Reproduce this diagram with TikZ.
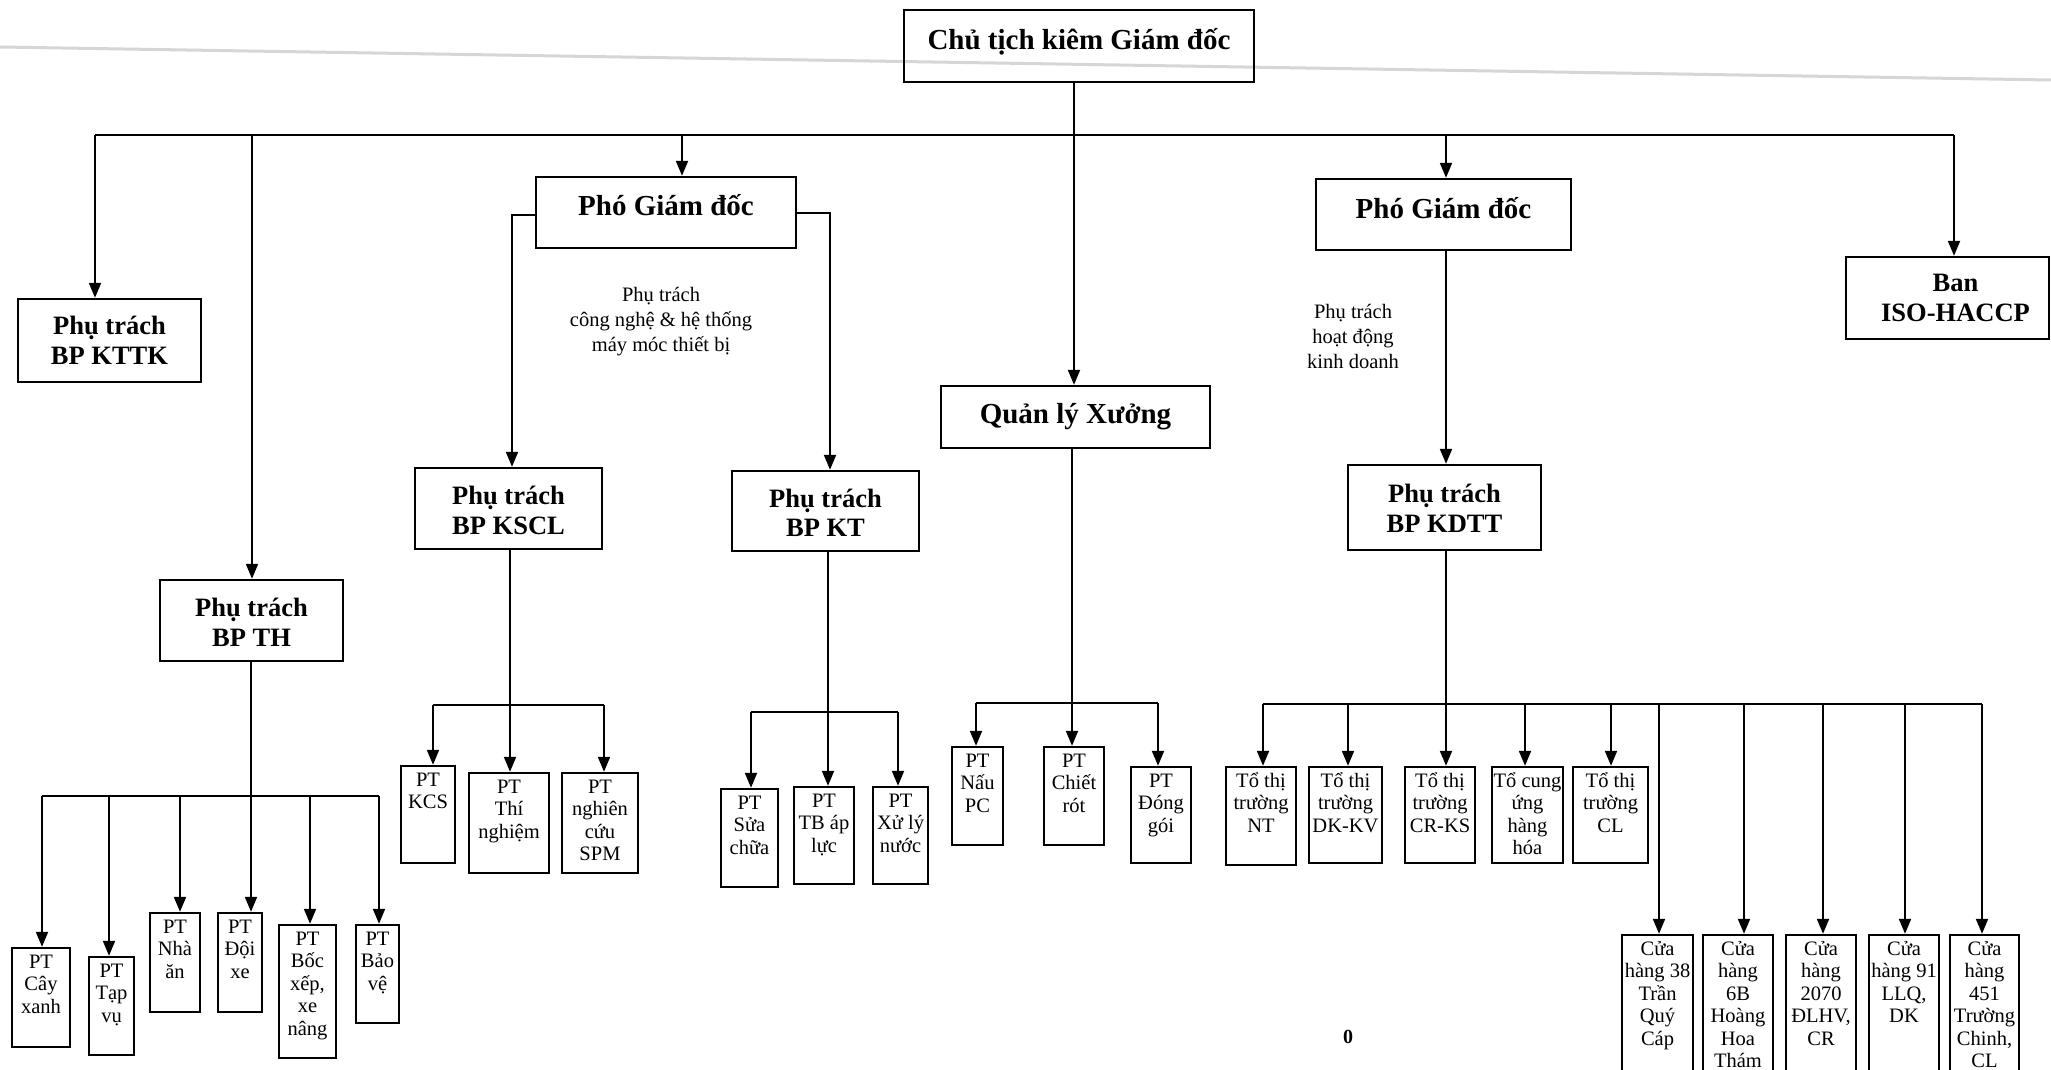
\documentclass[tikz,border=0pt]{standalone}
\usepackage{fontspec}
\setmainfont{Liberation Serif}
\usetikzlibrary{arrows.meta,fit}
\newcommand\tlines[1]{\begin{tabular}[t]{@{}c@{}}#1\end{tabular}}
\tikzset{
 boxline/.style={draw=black, line width=2.4pt, inner sep=0pt},
 conn/.style={draw=black, line width=2pt},
 arr/.style={conn, -{Triangle[length=15pt,width=12pt]}},
 smtext/.style={inner sep=0pt, font=\fontsize{20.5}{22.5}\selectfont},
 bgtext/.style={inner sep=0pt, align=center, font=\bfseries\fontsize{26.5}{29.5}\selectfont},
 toptext/.style={inner sep=0pt, align=center, font=\bfseries\fontsize{29}{32}\selectfont},
 lbl/.style={inner sep=0pt, align=center, font=\fontsize{20.5}{25}\selectfont},
 scan/.style={draw=black!16, line width=3pt},
}
% small box: name x1 y1 x2 y2 text
\newcommand\smbox[6]{%
  \node[boxline, fit={(#2,#3)(#4,#5)}] (#1) {};
  \node[smtext, anchor=base] (#1-t) at ([yshift=-21.5pt]#1.north) {\tlines{#6}};
}
% big box: name x1 y1 x2 y2 style yshift text
\newcommand\bgbox[8]{%
  \node[boxline, fit={(#2,#3)(#4,#5)}] (#1) {};
  \node[#6] (#1-t) at ([yshift=#7]#1.center) {#8};
}
\newcommand\drop[4]{\coordinate (#1) at (#2,#3); \draw[arr] (#1) -- (#1 |- #4.north);}
\begin{document}
\begin{tikzpicture}[x=1pt,y=-1pt]
\useasboundingbox (0,0) rectangle (2051,1070);
\clip (0,0) rectangle (2051,1070);
\fill[white] (0,0) rectangle (2051,1070);
\draw[scan] (0,47) -- (2051,80);

% ---- main boxes
\bgbox{ct}{904}{10}{1254}{82}{toptext}{4pt}{Chủ tịch kiêm Giám đốc}
\bgbox{kttk}{18}{299}{201}{382}{bgtext}{0pt}{Phụ trách\\BP KTTK}
\bgbox{th}{160}{580}{343}{661}{bgtext}{-2pt}{Phụ trách\\BP TH}
\bgbox{pgd1}{536}{177}{796}{248}{toptext}{7pt}{Phó Giám đốc}
\bgbox{kscl}{415}{468}{602}{549}{bgtext}{-2pt}{Phụ trách\\BP KSCL}
\bgbox{kt}{732}{471}{919}{551}{bgtext}{-2pt}{Phụ trách\\BP KT}
\bgbox{qlx}{941}{386}{1210}{448}{toptext}{0pt}{Quản lý Xưởng}
\bgbox{pgd2}{1316}{179}{1571}{250}{toptext}{6pt}{Phó Giám đốc}
\bgbox{kdtt}{1348}{465}{1541}{550}{bgtext}{-1pt}{Phụ trách\\BP KDTT}
\node[boxline, fit={(1846,257)(2049,339)}] (iso) {};
\node[bgtext] (iso-t) at ([xshift=8pt]iso.center) {Ban\\ISO-HACCP};

% ---- labels
\node[lbl] (lab1) at (661,322) {Phụ trách\\công nghệ \& hệ thống\\máy móc thiết bị};
\node[lbl] (lab2) at (1353,336) {Phụ trách\\hoạt động\\kinh doanh};
\node[inner sep=0pt, font=\bfseries\fontsize{20}{22}\selectfont] (pg) at (1348,1037) {0};

% ---- small boxes: TH
\smbox{cay}{12}{948}{70}{1047}{PT\\Cây\\xanh}
\smbox{tap}{89}{957}{134}{1055}{PT\\Tạp\\vụ}
\smbox{nha}{150}{913}{200}{1012}{PT\\Nhà\\ăn}
\smbox{doi}{218}{913}{262}{1012}{PT\\Đội\\xe}
\smbox{boc}{279}{925}{336}{1058}{PT\\Bốc\\xếp,\\xe\\nâng}
\smbox{bao}{356}{925}{399}{1023}{PT\\Bảo\\vệ}
% KSCL
\smbox{kcs}{401}{766}{455}{863}{PT\\KCS}
\smbox{tn}{469}{773}{549}{873}{PT\\Thí\\nghiệm}
\smbox{spm}{562}{773}{638}{873}{PT\\nghiên\\cứu\\SPM}
% KT
\smbox{sc}{721}{789}{778}{887}{PT\\Sửa\\chữa}
\smbox{tb}{794}{787}{854}{884}{PT\\TB áp\\lực}
\smbox{xl}{873}{787}{928}{884}{PT\\Xử lý\\nước}
% QLX
\smbox{nau}{952}{747}{1003}{845}{PT\\Nấu\\PC}
\smbox{chiet}{1044}{747}{1104}{845}{PT\\Chiết\\rót}
\smbox{dong}{1131}{767}{1191}{863}{PT\\Đóng\\gói}
% KDTT
\smbox{nt}{1226}{767}{1296}{865}{Tổ thị\\trường\\NT}
\smbox{dk}{1309}{767}{1382}{863}{Tổ thị\\trường\\DK-KV}
\smbox{crks}{1405}{767}{1475}{863}{Tổ thị\\trường\\CR-KS}
\smbox{cu}{1492}{767}{1563}{863}{Tổ cung\\ứng\\hàng\\hóa}
\smbox{cl}{1573}{767}{1648}{863}{Tổ thị\\trường\\CL}
\smbox{ch1}{1622}{935}{1693}{1080}{Cửa\\hàng 38\\Trần\\Quý\\Cáp}
\smbox{ch2}{1703}{935}{1773}{1080}{Cửa\\hàng\\6B\\Hoàng\\Hoa\\Thám}
\smbox{ch3}{1786}{935}{1856}{1080}{Cửa\\hàng\\2070\\ĐLHV,\\CR}
\smbox{ch4}{1869}{935}{1939}{1080}{Cửa\\hàng 91\\LLQ,\\DK}
\smbox{ch5}{1950}{935}{2019}{1080}{Cửa\\hàng\\451\\Trường\\Chinh,\\CL}

% ---- top bus
\coordinate (busL) at (95,135);
\coordinate (busR) at (1954,135);
\draw[conn] (busL) -- (busR);
\draw[arr] (busL) -- (busL |- kttk.north);
\drop{bTH}{252}{135}{th}
\drop{bP1}{682}{135}{pgd1}
\drop{bP2}{1446}{135}{pgd2}
\draw[arr] (busR) -- (busR |- iso.north);
\drop{ctD}{1074}{82}{qlx}

% ---- deputy 1
\draw[arr] ([yshift=-2.5pt]pgd1.west) -| ([xshift=3.5pt]kscl.north);
\draw[arr] (pgd1.east) -| ([xshift=4.5pt]kt.north);
% ---- deputy 2
\drop{p2D}{1446}{250}{kdtt}

% ---- TH group
\coordinate (thL) at (42,796);
\coordinate (thR) at (379,796);
\draw[conn] (thL) -- (thR);
\drop{thD}{251}{661}{doi}
\draw[arr] (thL) -- (thL |- cay.north);
\drop{th2}{109}{796}{tap}
\drop{th3}{180}{796}{nha}
\drop{th5}{310}{796}{boc}
\draw[arr] (thR) -- (thR |- bao.north);

% ---- KSCL group
\coordinate (ksL) at (433,705);
\coordinate (ksR) at (604,705);
\draw[conn] (ksL) -- (ksR);
\drop{ksD}{510}{549}{tn}
\draw[arr] (ksL) -- (ksL |- kcs.north);
\draw[arr] (ksR) -- (ksR |- spm.north);

% ---- KT group
\coordinate (ktL) at (751,712);
\coordinate (ktR) at (898,712);
\draw[conn] (ktL) -- (ktR);
\drop{ktD}{828}{551}{tb}
\draw[arr] (ktL) -- (ktL |- sc.north);
\draw[arr] (ktR) -- (ktR |- xl.north);

% ---- QLX group
\coordinate (qL) at (976,703);
\coordinate (qR) at (1158,703);
\draw[conn] (qL) -- (qR);
\drop{qD}{1072}{448}{chiet}
\draw[arr] (qL) -- (qL |- nau.north);
\draw[arr] (qR) -- (qR |- dong.north);

% ---- KDTT group
\coordinate (kL) at (1263,704);
\coordinate (kR) at (1982,704);
\draw[conn] (kL) -- (kR);
\drop{kD}{1446}{550}{crks}
\draw[arr] (kL) -- (kL |- nt.north);
\drop{k2}{1348}{704}{dk}
\drop{k4}{1525}{704}{cu}
\drop{k5}{1611}{704}{cl}
\drop{k6}{1659}{704}{ch1}
\drop{k7}{1744}{704}{ch2}
\drop{k8}{1823}{704}{ch3}
\drop{k9}{1905}{704}{ch4}
\draw[arr] (kR) -- (kR |- ch5.north);
\end{tikzpicture}
\end{document}
